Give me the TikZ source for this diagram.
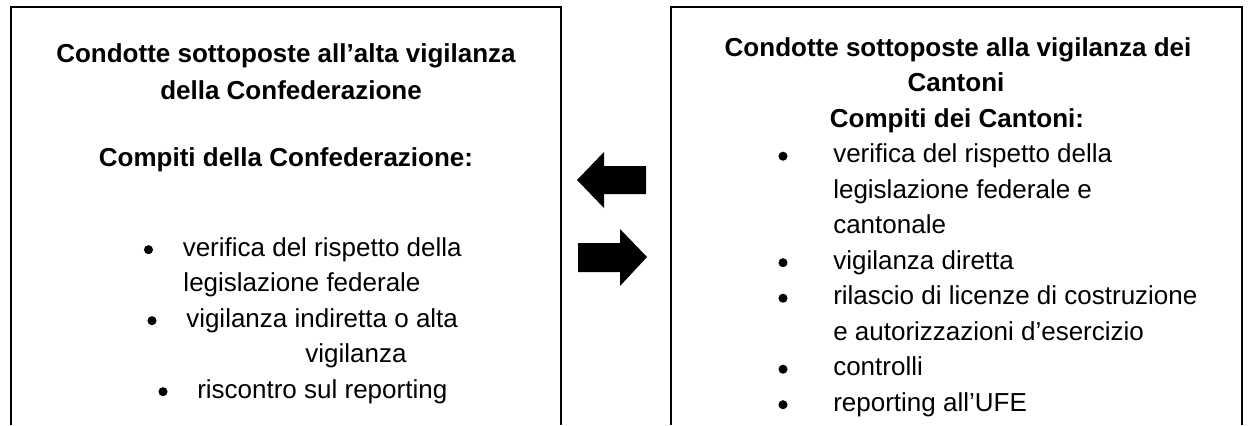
\documentclass[tikz,border=0pt]{standalone}
\usepackage{fontspec}
\setmainfont{Liberation Sans}
\usetikzlibrary{positioning}

\begin{document}
\begin{tikzpicture}[x=0.75pt,y=-0.75pt,
		riga/.style={inner sep=0pt,anchor=base west,font=\fontsize{19.5}{23}\selectfont},
		titolo/.style={inner sep=0pt,anchor=base,font=\fontsize{19.5}{23}\selectfont\bfseries},
		punto/.style={circle,fill,inner sep=0pt,minimum size=6.8pt}]
		\useasboundingbox (0,0) rectangle (1248,425);
		% riquadri aperti in basso
		\draw[line width=1.8pt] (11,425) -- (11,7) -- (561,7) -- (561,425);
		\draw[line width=1.8pt] (671,425) -- (671,7) -- (1242,7) -- (1242,425);
		% frecce
		\fill (577,180) -- (604,152) -- (604,166) -- (646,166) -- (646,194) -- (604,194) -- (604,208) -- cycle;
		\fill (647,257) -- (620,229) -- (620,243) -- (578,243) -- (578,272) -- (620,272) -- (620,286) -- cycle;
		% Confederazione
		\node[titolo] (c1) at (286,62) {Condotte sottoposte all’alta vigilanza};
		\node[titolo] (c2) at (291,99) {della Confederazione};
		\node[titolo] (c3) at (286,166) {Compiti della Confederazione:};
		\node[punto] (cp1) at (148.5,249.7) {};
		\node[riga] (cl1) at (182.5,256) {verifica del rispetto della};
		\node[riga,anchor=base] (cl2) at (302,291.5) {legislazione federale};
		\node[punto] (cp2) at (152,320.7) {};
		\node[riga] (cl3) at (186,327) {vigilanza indiretta o alta};
		\node[riga,anchor=base] (cl4) at (356,362.5) {vigilanza};
		\node[punto] (cp3) at (163,391.7) {};
		\node[riga] (cl5) at (197,398) {riscontro sul reporting};
		% Cantoni
		\node[titolo] (k1) at (958,56) {Condotte sottoposte alla vigilanza dei};
		\node[titolo] (k2) at (956,91.5) {Cantoni};
		\node[titolo] (k3) at (957,127) {Compiti dei Cantoni:};
		\node[punto] (kp1) at (783,156.2) {};
		\node[riga] (kl1) at (833,162.5) {verifica del rispetto della};
		\node[riga] (kl2) at (833,198) {legislazione federale e};
		\node[riga] (kl3) at (833,233.5) {cantonale};
		\node[punto] (kp2) at (783,262.7) {};
		\node[riga] (kl4) at (833,269) {vigilanza diretta};
		\node[punto] (kp3) at (783,298.2) {};
		\node[riga] (kl5) at (833,304.5) {rilascio di licenze di costruzione};
		\node[riga] (kl6) at (833,340) {e autorizzazioni d’esercizio};
		\node[punto] (kp4) at (783,369.2) {};
		\node[riga] (kl7) at (833,375.5) {controlli};
		\node[punto] (kp5) at (783,404.7) {};
		\node[riga] (kl8) at (833,411) {reporting all’UFE};
\end{tikzpicture}
\end{document}
